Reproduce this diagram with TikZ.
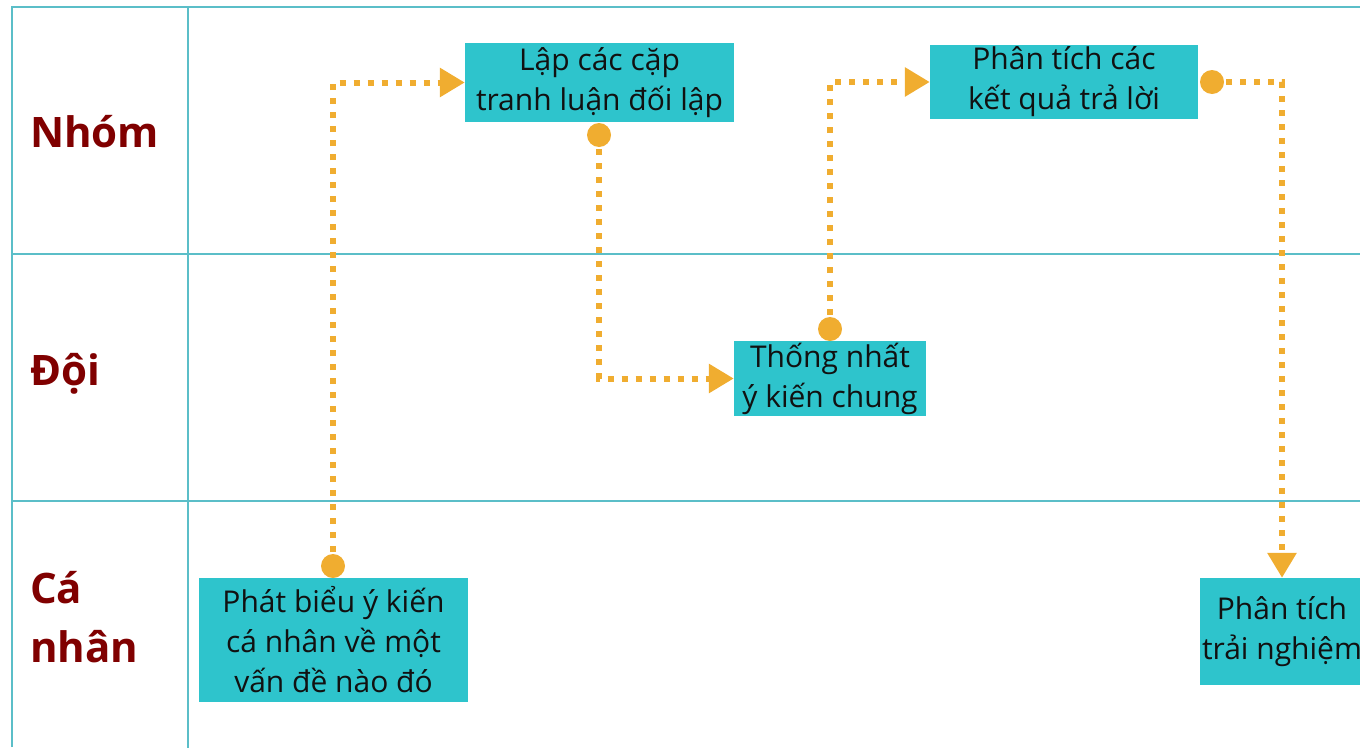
\documentclass[tikz,border=0pt]{standalone}
\usepackage{fontspec}
\setmainfont{Open Sans}
\usetikzlibrary{arrows.meta}
\definecolor{gridc}{HTML}{5BBEC8}
\definecolor{boxc}{HTML}{2EC4CC}
\definecolor{orangec}{HTML}{F0AD30}
\definecolor{labelc}{HTML}{800000}
\definecolor{textc}{HTML}{111111}
\tikzset{
  gridline/.style={draw=gridc, line width=2.4pt},
  stepbox/.style={fill=boxc, draw=none, inner sep=0pt, align=center, text=textc,
    font={\fontsize{30}{40}\selectfont}},
  lanelabel/.style={anchor=base west, inner sep=0pt, align=left, text=labelc,
    font={\bfseries\fontsize{42}{59}\selectfont}},
  startdot/.style={circle, fill=orangec, draw=none, minimum size=24pt, inner sep=0pt},
  conn/.style={draw=orangec, line width=6pt, dash pattern=on 6pt off 8pt,
    -{Triangle[length=25pt,width=28pt]}},
}
\begin{document}
\begin{tikzpicture}[x=1pt,y=-1pt]
\useasboundingbox (0,0) rectangle (1360,747);
\clip (0,0) rectangle (1360,747);
% grid
\draw[gridline] (12,747) -- (12,7) -- (1362,7);
\draw[gridline] (188,7) -- (188,749);
\draw[gridline] (12,254) -- (1362,254);
\draw[gridline] (12,501) -- (1362,501);
% lane labels
\node[lanelabel] (lnhom) at (30,147) {Nhóm};
\node[lanelabel] (ldoi) at (30,385) {Đội};
\node[lanelabel] (lcanhan) at (30,662) {Cá\\nhân};
% boxes
\node[stepbox, minimum width=269pt, minimum height=79pt] (b1) at (599.5,82.5) {Lập các cặp\\tranh luận đối lập};
\node[stepbox, minimum width=268pt, minimum height=74pt] (b2) at (1064,82) {Phân tích các\\kết quả trả lời};
\node[stepbox, minimum width=192pt, minimum height=75pt] (b3) at (830,378.5) {Thống nhất\\ý kiến chung};
\node[stepbox, minimum width=269pt, minimum height=124pt] (b4) at (333.5,640) {Phát biểu ý kiến\\cá nhân về một\\vấn đề nào đó};
\node[stepbox, minimum width=164pt, minimum height=107pt] (b5) at (1282,631.5) {Phân tích\\trải nghiệm};
% start dots
\coordinate (d1) at (333,566);
\coordinate (d2) at (599,135);
\coordinate (d3) at (830,329);
\coordinate (d4) at (1212,82);
% connectors
\draw[conn] (d1) |- (b1.west);
\draw[conn] (d2) |- (b3.west);
\draw[conn] (d3) |- (b2.west);
\draw[conn] (d4) -| (b5.north);
\node[startdot] (c1) at (d1) {};
\node[startdot] (c2) at (d2) {};
\node[startdot] (c3) at (d3) {};
\node[startdot] (c4) at (d4) {};
\end{tikzpicture}
\end{document}
